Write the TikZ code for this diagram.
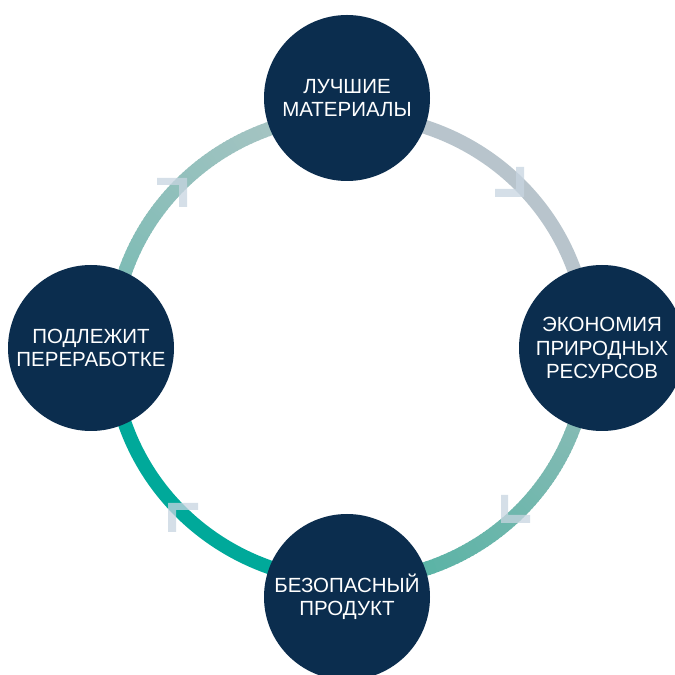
\documentclass[tikz,border=0pt]{standalone}
\usepackage{fontspec}
\setmainfont{Liberation Sans}
\definecolor{navy}{HTML}{0B2D4E}
\definecolor{ringgray}{HTML}{B8C4CC}
\definecolor{ringA}{HTML}{93BDB9}
\definecolor{ringB}{HTML}{4DB1A1}
\definecolor{ringteal}{HTML}{00A99A}
\definecolor{ringC}{HTML}{72B9B1}
\definecolor{ringD}{HTML}{B2C7C7}
\definecolor{chev}{HTML}{C8D5E1}
\begin{document}
\begin{tikzpicture}[x=1pt,y=1pt,
  ringseg/.style={line width=14pt},
  stage/.style={circle, fill=navy, minimum size=166pt, inner sep=0pt, text=white, align=center, font=\fontsize{20.5}{23.5}\selectfont},
  chevron/.style={fill=chev, opacity=0.75}]
\useasboundingbox (0,0) rectangle (675,675);
\fill[white] (0,0) rectangle (675,675);
\coordinate (C) at (350,327);
\def\rx{238}
\def\ry{233}
% top -> right (gray)
\draw[ringseg, draw=ringgray] ([shift={(0:\rx pt and \ry pt)}]C) arc[start angle=0, end angle=90.5, x radius=\rx, y radius=\ry];
% left -> bottom (teal)
\draw[ringseg, draw=ringteal] ([shift={(180:\rx pt and \ry pt)}]C) arc[start angle=180, end angle=270.5, x radius=\rx, y radius=\ry];
% right -> bottom gradient
\foreach \i in {0,...,89}{
  \pgfmathtruncatemacro\p{round(100*\i/89)}
  \pgfmathsetmacro\a{270+\i}
  \draw[ringseg, draw=ringA!\p!ringB] ([shift={(\a:\rx pt and \ry pt)}]C) arc[start angle=\a, end angle=\a+1.4, x radius=\rx, y radius=\ry];
}
% top -> left gradient
\foreach \i in {0,...,89}{
  \pgfmathtruncatemacro\p{round(100*\i/89)}
  \pgfmathsetmacro\a{90+\i}
  \draw[ringseg, draw=ringC!\p!ringD] ([shift={(\a:\rx pt and \ry pt)}]C) arc[start angle=\a, end angle=\a+1.4, x radius=\rx, y radius=\ry];
}
% chevrons
\fill[chevron] (157,497) -- (187,497) -- (187,468) -- (179,468) -- (179,490) -- (157,490) -- cycle;
\fill[chevron] (524,508) -- (524,478) -- (495,478) -- (495,486) -- (516,486) -- (516,508) -- cycle;
\fill[chevron] (501,180) -- (501,152) -- (530,152) -- (530,160) -- (508,160) -- (508,180) -- cycle;
\fill[chevron] (168,143) -- (168,172) -- (198,172) -- (198,165) -- (176,165) -- (176,143) -- cycle;
% nodes
\node[stage] (top) at (347,577) {ЛУЧШИЕ\\МАТЕРИАЛЫ};
\node[stage] (right) at (602,327) {ЭКОНОМИЯ\\ПРИРОДНЫХ\\РЕСУРСОВ};
\node[stage] (bottom) at (347,78) {БЕЗОПАСНЫЙ\\ПРОДУКТ};
\node[stage] (left) at (91,327) {ПОДЛЕЖИТ\\ПЕРЕРАБОТКЕ};
\end{tikzpicture}
\end{document}
